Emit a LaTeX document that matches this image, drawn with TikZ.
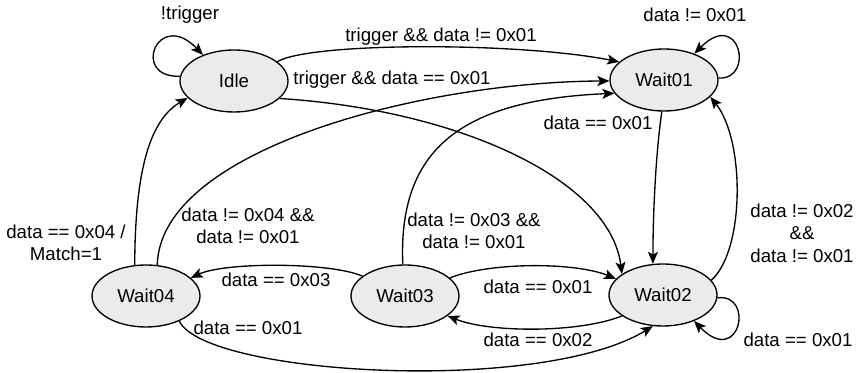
\documentclass[tikz,border=0pt]{standalone}
\usepackage{fontspec}
\setmainfont{Liberation Sans}
\usetikzlibrary{arrows.meta,shapes.geometric}
\definecolor{stategray}{RGB}{235,235,235}
\begin{document}
\begin{tikzpicture}[x=0.75pt,y=-0.75pt,
  state/.style={ellipse,draw,line width=1pt,fill=stategray,minimum width=81pt,minimum height=46.5pt,inner sep=0pt,font=\fontsize{14}{16.9}\selectfont},
  edge/.style={line width=1pt,-{Stealth[length=9pt,width=7.5pt,inset=2pt]}},
  lbl/.style={align=center,inner sep=0pt,font=\fontsize{14}{16.9}\selectfont}]
\useasboundingbox (0,0) rectangle (861,373);
% states
\node[state] (idle) at (234,81) {Idle};
\node[state] (w1) at (664,80) {Wait01};
\node[state] (w4) at (146,296) {Wait04};
\node[state] (w3) at (405,296) {Wait03};
\node[state] (w2) at (663,295) {Wait02};
% edges
\draw[edge] (idle.175) .. controls (130,78) and (158,8) .. (idle.140);
\draw[edge] (idle.24) .. controls (310,42) and (520,42) .. (w1.158);
\draw[edge] (idle.-21) .. controls (460,110) and (610,180) .. (w2.153);
\draw[edge] (w4.70) .. controls (160,150) and (420,82) .. (w1.181);
\draw[edge] (w3.94) .. controls (398,150) and (460,100) .. (w1.195);
\draw[edge] (w1.266) .. controls (655,160) and (653,220) .. (w2.108);
\draw[edge] (w2.17) .. controls (745,250) and (745,140) .. (w1.-20);
\draw[edge] (w1.2) .. controls (755,80) and (740,8) .. (w1.41);
\draw[edge] (w2.-3) .. controls (755,293) and (740,368) .. (w2.-40);
\draw[edge] (w3.22) .. controls (490,262) and (575,262) .. (w2.161);
\draw[edge] (w2.207) .. controls (580,333) and (490,333) .. (w3.-25);
\draw[edge] (w3.155) .. controls (330,262) and (225,262) .. (w4.22);
\draw[edge] (w4.-37) .. controls (205,375) and (540,395) .. (w2.252);
\draw[edge] (w4.110) .. controls (135,170) and (150,120) .. (idle.200);
% labels
\node[lbl] (l1) at (190,15) {!trigger};
\node[lbl] (l2) at (441,37) {trigger \&\& data != 0x01};
\node[lbl] (l3) at (392,80) {trigger \&\& data == 0x01};
\node[lbl] (l4) at (695,15) {data != 0x01};
\node[lbl] (l5) at (598,123) {data == 0x01};
\node[lbl] (l6) at (248,226) {data != 0x04 \&\&\\data != 0x01};
\node[lbl] (l7) at (66,243) {data == 0x04 /\\Match=1};
\node[lbl] (l8) at (474,231) {data != 0x03 \&\&\\data != 0x01};
\node[lbl] (l9) at (802,233) {data != 0x02\\\&\&\\data != 0x01};
\node[lbl] (l10) at (276,280) {data == 0x03};
\node[lbl] (l11) at (538,287) {data == 0x01};
\node[lbl] (l12) at (538,340) {data == 0x02};
\node[lbl] (l13) at (248,328) {data == 0x01};
\node[lbl] (l14) at (798,340) {data == 0x01};
\end{tikzpicture}
\end{document}
